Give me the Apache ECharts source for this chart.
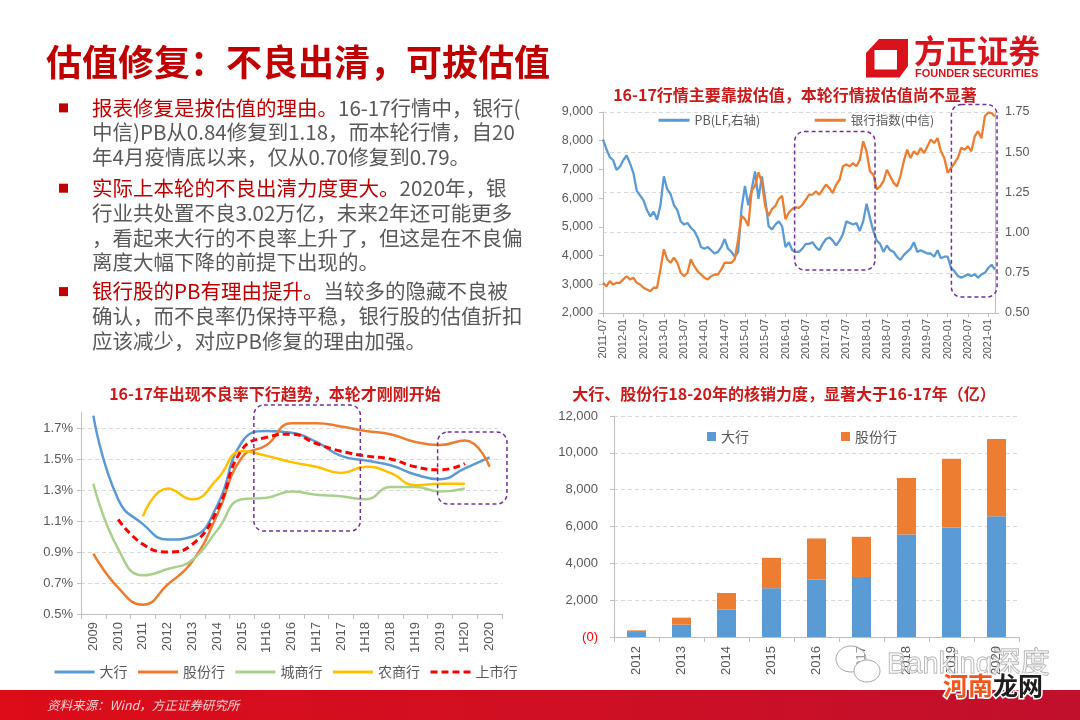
<!DOCTYPE html>
<html>
<head>
<meta charset="utf-8">
<script src="https://cdn.jsdelivr.net/npm/echarts@6/dist/echarts.min.js"></script>
<style>
html,body{margin:0;padding:0;background:#ffffff;}
#main{width:1080px;height:720px;}
</style>
</head>
<body>
<div id="main"></div>
<script>
// ---------- DATA ----------
// Chart 1: monthly, 2011-07 .. 2021-03
const monthLabels = (function () {
  const a = [];
  for (let y = 2011; y <= 2021; y++) {
    for (let m = 1; m <= 12; m++) {
      if ((y === 2011 && m < 7) || (y === 2021 && m > 3)) continue;
      a.push(y + '-' + String(m).padStart(2, '0'));
    }
  }
  return a;
})();
const pbValues = [
  1.58,1.52,1.47,1.45,1.39,1.41,1.45,1.48,1.43,1.37,
  1.26,1.23,1.20,1.14,1.10,1.13,1.08,1.17,1.35,1.27,
  1.24,1.17,1.14,1.07,1.05,1.06,1.03,1.01,0.97,0.91,
  0.90,0.91,0.89,0.87,0.88,0.91,0.96,0.90,0.88,0.85,
  0.88,1.15,1.29,1.17,1.27,1.38,1.21,1.35,1.21,1.04,
  1.02,1.05,1.07,1.04,0.91,0.94,0.89,0.88,0.88,0.90,
  0.93,0.93,0.94,0.91,0.89,0.93,0.96,0.97,0.95,0.92,
  0.95,0.99,1.07,1.06,1.05,1.06,1.01,1.07,1.18,1.09,
  1.01,0.95,0.93,0.88,0.92,0.89,0.88,0.85,0.83,0.86,
  0.88,0.90,0.94,0.88,0.89,0.88,0.87,0.87,0.85,0.89,
  0.84,0.85,0.85,0.78,0.76,0.73,0.72,0.73,0.74,0.73,
  0.74,0.72,0.74,0.75,0.78,0.80,0.77
];
const bankIndex = [
  3050,2930,3110,2990,3050,3050,3170,3280,3170,3230,
  3050,2990,2880,2820,2760,2880,2880,3520,4220,3870,
  3750,3930,3750,3400,3280,3400,3870,3630,3460,3340,
  3230,3170,3280,3340,3340,3520,3750,3750,3750,3870,
  4570,5380,5270,5030,6260,6430,6900,6550,5730,5380,
  5620,5730,5970,6080,5270,5500,5620,5680,5660,5770,
  5950,6120,6120,6240,6120,6300,6470,6350,6180,6470,
  6640,7110,7170,7110,7220,7110,7340,7980,7630,6930,
  6820,6300,6410,6590,6990,6760,6530,6410,6760,7280,
  7690,7400,7630,7510,7750,7570,7800,8040,7920,8090,
  7630,7400,6880,7050,7220,7400,7750,7690,7800,7630,
  8150,8330,8090,8850,8980,8960,8850
];

// Chart 2: NPL ratio (%)
const nplCats = ['2009','2010','2011','2012','2013','2014','2015','1H16','2016','1H17','2017','1H18','2018','1H19','2019','1H20','2020'];
const nplBig    = [1.78,1.24,1.08,0.98,1.00,1.20,1.61,1.68,1.67,1.61,1.52,1.49,1.46,1.40,1.37,1.44,1.51];
const nplJoint  = [0.89,0.67,0.56,0.69,0.84,1.14,1.51,1.59,1.73,1.73,1.71,1.68,1.66,1.61,1.59,1.62,1.45];
const nplCity   = [1.34,0.92,0.75,0.79,0.85,1.04,1.24,1.25,1.29,1.27,1.26,1.24,1.32,1.32,1.29,1.31,null];
const nplRural  = [null,null,1.13,1.31,1.24,1.37,1.55,1.52,1.48,1.45,1.41,1.45,1.41,1.33,1.34,1.34,null];
const nplListed = [null,1.11,0.95,0.90,0.95,1.17,1.56,1.64,1.66,1.60,1.55,1.52,1.50,1.45,1.43,1.47,null];

// Chart 3: write-offs (亿)
const writeoffYears = ['2012','2013','2014','2015','2016','2017','2018','2019','2020'];
const writeoffBig   = [270,670,1500,2650,3120,3260,5570,5950,6550];
const writeoffJoint = [90,380,890,1650,2230,2180,3060,3730,4200];

// ---------- LAYOUT / STYLE ----------
const CJK = '"Noto Sans CJK SC", "Liberation Sans", sans-serif';
const NUM = '"Liberation Sans", "Noto Sans CJK SC", sans-serif';
const GRAY = '#595959';
const AXIS = '#BFBFBF';
const GRID_C = '#D9D9D9';
const RED = '#C00000';
const TRED = '#CC1A1A';
const BLUE = '#5B9BD5', ORANGE = '#ED7D31', GREEN = '#A9D18E', YELLOW = '#FFC000';
const PURPLE = '#7030A0';

const G1 = {left: 603, top: 112, width: 392, height: 201};
const G2 = {left: 81, top: 412.5, width: 421, height: 201.5};
const G3 = {left: 614, top: 416, width: 405, height: 221};

const c1x = i => G1.left + i / (monthLabels.length - 1) * G1.width;
const c1y = v => G1.top + (9000 - v) / 7000 * G1.height;
const c2x = b => G2.left + b / nplCats.length * G2.width;
const c2y = v => G2.top + (1.8 - v) / 1.3 * G2.height;

function box(x0, y0, x1, y1) {
  return {
    type: 'rect', z: 100, silent: true,
    shape: {x: x0, y: y0, width: x1 - x0, height: y1 - y0, r: 10},
    style: {fill: 'none', stroke: PURPLE, lineWidth: 1.5, lineDash: [4, 3]}
  };
}

const halfYear = (idx, val) => /-(01|07)$/.test(val);
const thousands = v => Number(v).toLocaleString('en-US');

const bullets = [
  {y: 95.5, text: '{r|报表修复是拔估值的理由。}{g|16-17行情中，银行(}\n{g|中信)PB从0.84修复到1.18，而本轮行情，自20}\n{g|年4月疫情底以来，仅从0.70修复到0.79。}'},
  {y: 175.8, text: '{r|实际上本轮的不良出清力度更大。}{g|2020年，银}\n{g|行业共处置不良3.02万亿，未来2年还可能更多}\n{g|，看起来大行的不良率上升了，但这是在不良偏}\n{g|离度大幅下降的前提下出现的。}'},
  {y: 279.2, text: '{r|银行股的PB有理由提升。}{g|当较多的隐藏不良被}\n{g|确认，而不良率仍保持平稳，银行股的估值折扣}\n{g|应该减少，对应PB修复的理由加强。}'}
];
const LH = 24.8;
const FS = 20.5;
const richStyle = {
  r: {fill: RED, fontSize: FS, fontFamily: CJK, lineHeight: LH},
  g: {fill: GRAY, fontSize: FS, fontFamily: CJK, lineHeight: LH}
};

const graphics = [];
// main title
graphics.push({type: 'text', x: 46, y: 62, style: {text: '估值修复：不良出清，可拔估值', fill: RED, fontSize: 36, fontWeight: 'bold', fontFamily: CJK, verticalAlign: 'middle'}});
// logo
graphics.push({type: 'polygon', shape: {points: [[866,53],[879,39],[908,39],[908,66],[899.5,77.5],[866,77.5]]}, style: {fill: '#D9121C'}});
graphics.push({type: 'rect', shape: {x: 874.5, y: 50, width: 22.5, height: 19.5}, style: {fill: '#ffffff'}});
graphics.push({type: 'text', x: 914, y: 51.5, style: {text: '方正证券', fill: '#D9121C', fontSize: 31.5, fontWeight: 'bold', fontFamily: CJK, verticalAlign: 'middle'}});
graphics.push({type: 'text', x: 915, y: 73.5, style: {text: 'FOUNDER SECURITIES', fill: '#D9121C', fontSize: 11, fontWeight: 'bold', fontFamily: NUM, verticalAlign: 'middle'}});
// bullets
bullets.forEach(b => {
  graphics.push({type: 'rect', shape: {x: 59, y: b.y + LH / 2 - 4.5, width: 9, height: 9}, style: {fill: RED}});
  graphics.push({type: 'text', x: 92, y: b.y, style: {text: b.text, rich: richStyle, fontSize: FS, fontFamily: CJK, lineHeight: LH, verticalAlign: 'top'}});
});
// chart titles
graphics.push({type: 'text', x: 795, y: 95, style: {text: '16-17行情主要靠拔估值，本轮行情拔估值尚不显著', fill: TRED, fontSize: 16, fontWeight: 'bold', fontFamily: CJK, align: 'center', verticalAlign: 'middle'}});
graphics.push({type: 'text', x: 275, y: 394, style: {text: '16-17年出现不良率下行趋势，本轮才刚刚开始', fill: TRED, fontSize: 16, fontWeight: 'bold', fontFamily: CJK, align: 'center', verticalAlign: 'middle'}});
graphics.push({type: 'text', x: 784, y: 394, style: {text: '大行、股份行18-20年的核销力度，显著大于16-17年（亿）', fill: TRED, fontSize: 16, fontWeight: 'bold', fontFamily: CJK, align: 'center', verticalAlign: 'middle'}});
// annotation boxes (axis units -> pixels)
graphics.push(box(c1x(56.7), c1y(8323), c1x(80.5), c1y(3494)));
graphics.push(box(c1x(103.1), c1y(9261), c1x(116.6), c1y(2556)));
graphics.push(box(c2x(6.98), c2y(1.848), c2x(11.28), c2y(1.035)));
graphics.push(box(c2x(14.4), c2y(1.674), c2x(17.2), c2y(1.21)));
// footer
graphics.push({type: 'rect', shape: {x: 0, y: 690, width: 1080, height: 30}, style: {fill: {type: 'linear', x: 0, y: 0, x2: 1, y2: 0, colorStops: [{offset: 0, color: '#DC0C18'}, {offset: 0.45, color: '#D20F22'}, {offset: 1, color: '#C0102C'}]}}});
graphics.push({type: 'text', x: 47, y: 705, style: {text: '资料来源：Wind，方正证券研究所', fill: '#F6D0D2', fontSize: 12.5, fontStyle: 'italic', fontFamily: CJK, verticalAlign: 'middle'}});
// watermark
graphics.push({type: 'ellipse', z: 90, shape: {cx: 851, cy: 659, rx: 15, ry: 13}, style: {fill: 'rgba(255,255,255,0.4)', stroke: '#A6A6A6', lineWidth: 1}});
graphics.push({type: 'ellipse', z: 91, shape: {cx: 867, cy: 671, rx: 13, ry: 11}, style: {fill: '#ffffff', stroke: '#A6A6A6', lineWidth: 1}});
graphics.push({type: 'text', z: 92, x: 887, y: 665, style: {text: 'Banking深度', fill: 'rgba(255,255,255,0.5)', stroke: '#A0A0A0', lineWidth: 1, fontSize: 29, fontFamily: NUM, verticalAlign: 'middle'}});
graphics.push({type: 'text', z: 93, x: 943, y: 685, style: {text: '{a|河南}{b|龙网}', rich: {a: {fill: '#F0561D', fontSize: 25, fontWeight: 'bold', fontFamily: CJK, stroke: '#ffffff', lineWidth: 3}, b: {fill: '#1E1E1E', fontSize: 25, fontWeight: 'bold', fontFamily: CJK, stroke: '#ffffff', lineWidth: 3}}, verticalAlign: 'middle'}});

// ---------- OPTION ----------
const axisLabelBase = {color: GRAY, fontFamily: NUM};
const option = {
  animation: false,
  backgroundColor: '#ffffff',
  textStyle: {fontFamily: CJK},
  grid: [
    {left: G1.left, top: G1.top, width: G1.width, height: G1.height},
    {left: G2.left, top: G2.top, width: G2.width, height: G2.height},
    {left: G3.left, top: G3.top, width: G3.width, height: G3.height}
  ],
  legend: [
    {data: ['PB(LF,右轴)', '银行指数(中信)'], left: 652, top: 109, itemWidth: 31, itemHeight: 14, itemGap: 53,
     itemStyle: {opacity: 0}, lineStyle: {width: 3},
     textStyle: {fontSize: 12.5, color: GRAY, fontFamily: CJK}},
    {data: ['大行', '股份行', '城商行', '农商行', '上市行'], left: 48, top: 660, itemWidth: 40, itemHeight: 14, itemGap: 9,
     itemStyle: {opacity: 0}, lineStyle: {width: 3},
     textStyle: {fontSize: 14, color: GRAY, fontFamily: CJK}},
    {data: [{name: '大行', icon: 'rect', itemStyle: {color: BLUE, borderWidth: 0, opacity: 1}},
            {name: '股份行', icon: 'rect', itemStyle: {color: ORANGE, borderWidth: 0, opacity: 1}}],
     left: 702, top: 424.5, itemWidth: 9, itemHeight: 9, itemGap: 92,
     textStyle: {fontSize: 14, color: GRAY, fontFamily: CJK}}
  ],
  xAxis: [
    {type: 'category', gridIndex: 0, data: monthLabels, boundaryGap: false,
     axisLine: {lineStyle: {color: AXIS}},
     axisTick: {show: true, interval: halfYear, length: 4, lineStyle: {color: AXIS}},
     axisLabel: Object.assign({}, axisLabelBase, {interval: halfYear, rotate: 90, fontSize: 11, margin: 6})},
    {type: 'category', gridIndex: 1, data: nplCats, boundaryGap: true,
     axisLine: {lineStyle: {color: AXIS}},
     axisTick: {show: true, length: 5, lineStyle: {color: AXIS}},
     axisLabel: Object.assign({}, axisLabelBase, {interval: 0, rotate: 90, fontSize: 13, margin: 8})},
    {type: 'category', gridIndex: 2, data: writeoffYears, boundaryGap: true,
     axisLine: {lineStyle: {color: AXIS}},
     axisTick: {show: true, length: 5, lineStyle: {color: AXIS}},
     axisLabel: Object.assign({}, axisLabelBase, {interval: 0, rotate: 90, fontSize: 13, margin: 9})}
  ],
  yAxis: [
    {type: 'value', gridIndex: 0, position: 'left', min: 2000, max: 9000, interval: 1000,
     axisLine: {show: true, lineStyle: {color: AXIS}}, axisTick: {show: true, length: 4, lineStyle: {color: AXIS}},
     splitLine: {show: false},
     axisLabel: Object.assign({}, axisLabelBase, {fontSize: 12.5, margin: 10, formatter: thousands})},
    {type: 'value', gridIndex: 0, position: 'right', min: 0.5, max: 1.75, interval: 0.25,
     axisLine: {show: true, lineStyle: {color: AXIS}}, axisTick: {show: true, length: 4, lineStyle: {color: AXIS}},
     splitLine: {show: true, lineStyle: {color: GRID_C, type: [4, 3]}},
     axisLabel: Object.assign({}, axisLabelBase, {fontSize: 12.5, margin: 10, formatter: v => v.toFixed(2)})},
    {type: 'value', gridIndex: 1, min: 0.5, max: 1.8, interval: 0.2,
     axisLine: {show: true, lineStyle: {color: AXIS}}, axisTick: {show: true, length: 4, lineStyle: {color: AXIS}},
     splitLine: {show: true, showMaxLine: false, lineStyle: {color: GRID_C, type: [4, 3]}},
     axisLabel: Object.assign({}, axisLabelBase, {fontSize: 13, margin: 8, showMaxLabel: false, formatter: v => v.toFixed(1) + '%'})},
    {type: 'value', gridIndex: 2, min: 0, max: 12000, interval: 2000,
     axisLine: {show: true, lineStyle: {color: AXIS}}, axisTick: {show: true, length: 4, lineStyle: {color: AXIS}},
     splitLine: {show: true, lineStyle: {color: GRID_C, type: [4, 3]}},
     axisLabel: Object.assign({}, axisLabelBase, {fontSize: 13, margin: 16,
       formatter: v => (v === 0 ? '(0)' : thousands(v)),
       color: v => (Number(v) === 0 ? '#FF0000' : GRAY)})}
  ],
  series: [
    {name: 'PB(LF,右轴)', type: 'line', xAxisIndex: 0, yAxisIndex: 1, data: pbValues, symbol: 'none',
     itemStyle: {color: BLUE}, lineStyle: {color: BLUE, width: 2.3}},
    {name: '银行指数(中信)', type: 'line', xAxisIndex: 0, yAxisIndex: 0, data: bankIndex, symbol: 'none',
     itemStyle: {color: ORANGE}, lineStyle: {color: ORANGE, width: 2.3}},

    {name: '大行', type: 'line', xAxisIndex: 1, yAxisIndex: 2, data: nplBig, smooth: true, symbol: 'none',
     itemStyle: {color: BLUE}, lineStyle: {color: BLUE, width: 2.5}},
    {name: '股份行', type: 'line', xAxisIndex: 1, yAxisIndex: 2, data: nplJoint, smooth: true, symbol: 'none',
     itemStyle: {color: ORANGE}, lineStyle: {color: ORANGE, width: 2.5}},
    {name: '城商行', type: 'line', xAxisIndex: 1, yAxisIndex: 2, data: nplCity, smooth: true, symbol: 'none',
     itemStyle: {color: GREEN}, lineStyle: {color: GREEN, width: 2.5}},
    {name: '农商行', type: 'line', xAxisIndex: 1, yAxisIndex: 2, data: nplRural, smooth: true, symbol: 'none',
     itemStyle: {color: YELLOW}, lineStyle: {color: YELLOW, width: 2.5}},
    {name: '上市行', type: 'line', xAxisIndex: 1, yAxisIndex: 2, data: nplListed, smooth: true, symbol: 'none',
     itemStyle: {color: '#FF0000'}, lineStyle: {color: '#FF0000', width: 3, type: [7, 4]}},

    {name: '大行', type: 'bar', xAxisIndex: 2, yAxisIndex: 3, stack: 'wo', data: writeoffBig, barWidth: 19,
     itemStyle: {color: BLUE}},
    {name: '股份行', type: 'bar', xAxisIndex: 2, yAxisIndex: 3, stack: 'wo', data: writeoffJoint, barWidth: 19,
     itemStyle: {color: ORANGE}}
  ],
  graphic: graphics
};

const chart = echarts.init(document.getElementById('main'), null, {renderer: 'canvas', width: 1080, height: 720});
chart.setOption(option);
</script>
</body>
</html>
